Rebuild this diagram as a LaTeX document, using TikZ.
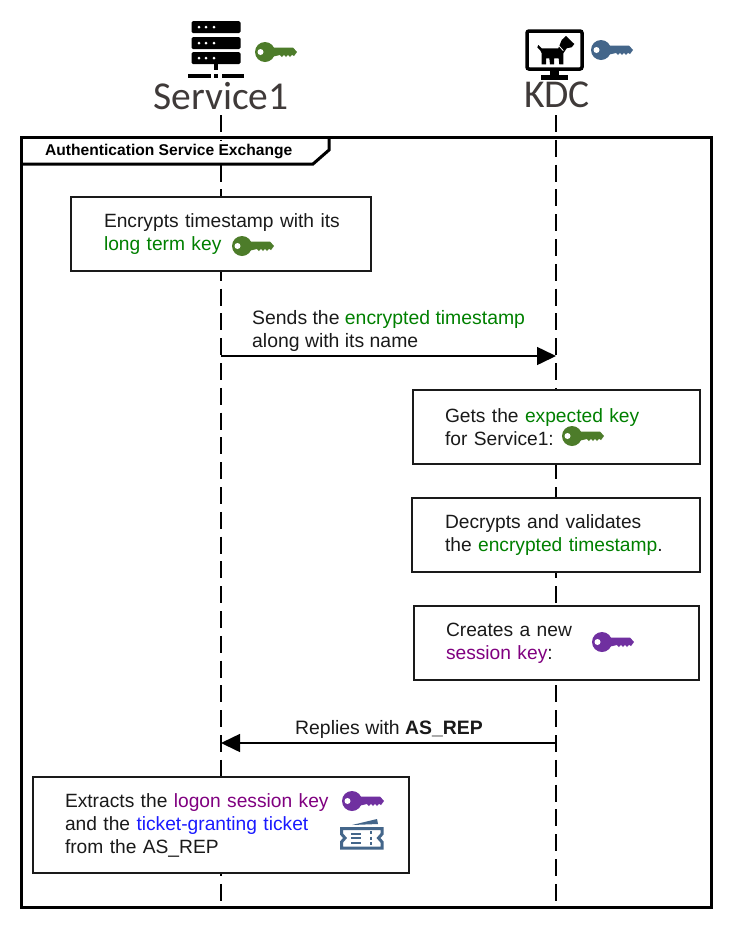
\documentclass[tikz,border=0pt]{standalone}
\usepackage{fontspec}
\setmainfont{Liberation Sans}
\newfontfamily\actorfont{Carlito}
\usepackage{xcolor}
\usetikzlibrary{arrows.meta, positioning}
\definecolor{KeyGreen}{RGB}{77,124,42}
\definecolor{KeyBlue}{RGB}{68,102,138}
\definecolor{KeyPurple}{RGB}{112,48,160}
\definecolor{TextGreen}{RGB}{0,128,0}
\definecolor{TextPurple}{RGB}{128,0,128}
\definecolor{TextBlue}{RGB}{26,26,255}
\definecolor{ActorGrey}{RGB}{63,58,57}
\definecolor{InkColor}{RGB}{26,26,26}
\tikzstyle{actor} = [font=\actorfont\fontsize{39.5}{40}\selectfont, text=ActorGrey, inner sep=0pt]
\tikzstyle{lifeline} = [line width=1.6pt, black, dash pattern=on 17pt off 7.8pt]
\tikzstyle{note} = [rectangle, draw=InkColor, line width=1.5pt, fill=white, align=left, text=InkColor, font=\fontsize{19.2}{23}\selectfont, inner xsep=0pt, inner ysep=0pt, minimum height=74pt]
\tikzstyle{msg} = [line width=1.5pt, black, -{Triangle[length=19pt,width=18pt]}]
\tikzstyle{msglabel} = [align=left, text=InkColor, font=\fontsize{19.4}{23}\selectfont, inner sep=0pt]
\tikzset{
  keyicon/.pic={
    \fill[#1] (0,0) circle (10);
    \fill[#1] (6,-4.5) -- (28,-4.5) -- (32,0) -- (29,4) -- (27,2.8) -- (25,5) -- (23,2.8) -- (21,5)
      -- (19,2.8) -- (17,5) -- (15,3) -- (6,5) -- cycle;
    \fill[white] (-4.5,0) circle (3);
  }
}
\begin{document}
\begin{tikzpicture}[x=1pt,y=-1pt]
\useasboundingbox (0,0) rectangle (734,930);
% actors
\node[actor] (service) at (221,96) {Service1};
\node[actor] (kdc) at (557,95) {KDC};
\coordinate (serviceEnd) at (221,902);
\coordinate (kdcEnd) at (556,902);
\draw[lifeline] (221,115) -- (serviceEnd);
\draw[lifeline] (556,115) -- (kdcEnd);
% server icon
\foreach \y in {21,37,52} {
  \fill[black, rounded corners=1.5pt] (191.5,\y) rectangle (240.5,\y+12);
  \foreach \x in {199,206,214}
    \fill[white] (\x,\y+6) circle (1.5);
}
\fill[black] (214,64) rectangle (218,70);
\fill[black] (188,74) rectangle (210.5,78);
\fill[black] (214,74) rectangle (218,78);
\fill[black] (221.5,74) rectangle (243.5,78);
% monitor icon
\draw[black, line width=3.5pt, rounded corners=2pt] (527,31) rectangle (582,69);
\fill[black] (550,70) rectangle (559,75);
\fill[black] (541,75) rectangle (568,79.5);
\fill[black] (538.3,45) -- (541.7,48.3) -- (558.3,48.3) -- (561.7,40) -- (566,36) -- (568.3,38.3) -- (574.3,44) -- (571.7,47.3)
  -- (566.7,48.3) -- (563.3,53.3) -- (563.3,64.3) -- (559.3,64.3) -- (558.7,58.3) -- (554,58.3) -- (554,64.3) -- (550,64.3)
  -- (549.3,58.3) -- (546,58.3) -- (546,64.3) -- (541.7,64.3) -- (541.7,53.3) -- (540,50) -- (537.3,47.3) -- cycle;
\draw[white, line width=0.8pt] (558.3,45) -- (563.3,50.7);
% keys beside the actors
\pic at (265,52) {keyicon=KeyGreen};
\pic at (601,50) {keyicon=KeyBlue};
% frame
\draw[black, line width=3pt, fill=none] (21.5,137) rectangle (711.5,907);
\node[fill=white, minimum width=280pt, minimum height=20pt, inner sep=0pt] (frameBack) at (165,151) {};
\draw[black, line width=3pt] (21,164) -- (313,164) -- (329,150) -- (329,137);
\node[font=\bfseries\fontsize{15.6}{16}\selectfont, inner sep=0pt, anchor=west] (frameTitle) at (45,151) {Authentication Service Exchange};
% notes
\node[note, minimum width=300pt, text width=234pt, inner xsep=33pt] (encrypt) at (221,234) {\mbox{Encrypts timestamp with its}\\\textcolor{TextGreen}{long term key}};
\pic at (242,246) {keyicon=KeyGreen};
\node[note, minimum width=287pt, text width=223pt, inner xsep=32pt] (expected) at (556.5,427) {Gets the \textcolor{TextGreen}{expected key}\\for Service1:};
\pic at (572,436) {keyicon=KeyGreen};
\node[note, minimum width=288pt, text width=222pt, inner xsep=33pt] (decrypt) at (556,535) {Decrypts and validates\\the \textcolor{TextGreen}{encrypted timestamp}.};
\node[note, minimum width=285pt, text width=221pt, inner xsep=32pt] (newkey) at (556.5,643) {Creates a new\\\textcolor{TextPurple}{session key}:};
\pic at (602,642) {keyicon=KeyPurple};
\node[note, minimum width=376pt, text width=312pt, inner xsep=32pt, minimum height=96pt] (extract) at (221,825) {Extracts the \textcolor{TextPurple}{logon session key}\\and the \textcolor{TextBlue}{ticket-granting ticket}\\from the AS\_REP};
\pic at (352,801) {keyicon=KeyPurple};
% ticket icon
\fill[KeyBlue] (352,825) -- (377,819) -- (378,824) -- cycle;
\draw[KeyBlue, line width=3pt] (341.5,828.5) -- (382,828.5) -- (382,834) -- (378.5,838) -- (382,842) -- (382,848) -- (341.5,848)
  -- (341.5,842) -- (345,838) -- (341.5,834) -- cycle;
\draw[KeyBlue, line width=2pt] (351,833.5) -- (361,833.5) (351,838) -- (361,838) (351,843) -- (361,843);
\draw[KeyBlue, line width=2pt] (371,831) -- (371,834) (371,836.5) -- (371,839.5) (371,842) -- (371,845);
% messages
\coordinate (sendFrom) at (221,356);
\coordinate (sendTo) at (556,356);
\draw[msg] (sendFrom) -- (sendTo);
\node[msglabel, anchor=west] (sendLabel) at (252,331) {Sends the \textcolor{TextGreen}{encrypted timestamp}\\along with its name};
\coordinate (replyFrom) at (556,743);
\coordinate (replyTo) at (221,743);
\draw[msg] (replyFrom) -- (replyTo);
\node[msglabel, anchor=west] (replyLabel) at (295,729) {Replies with \textbf{AS\_REP}};
\end{tikzpicture}
\end{document}
